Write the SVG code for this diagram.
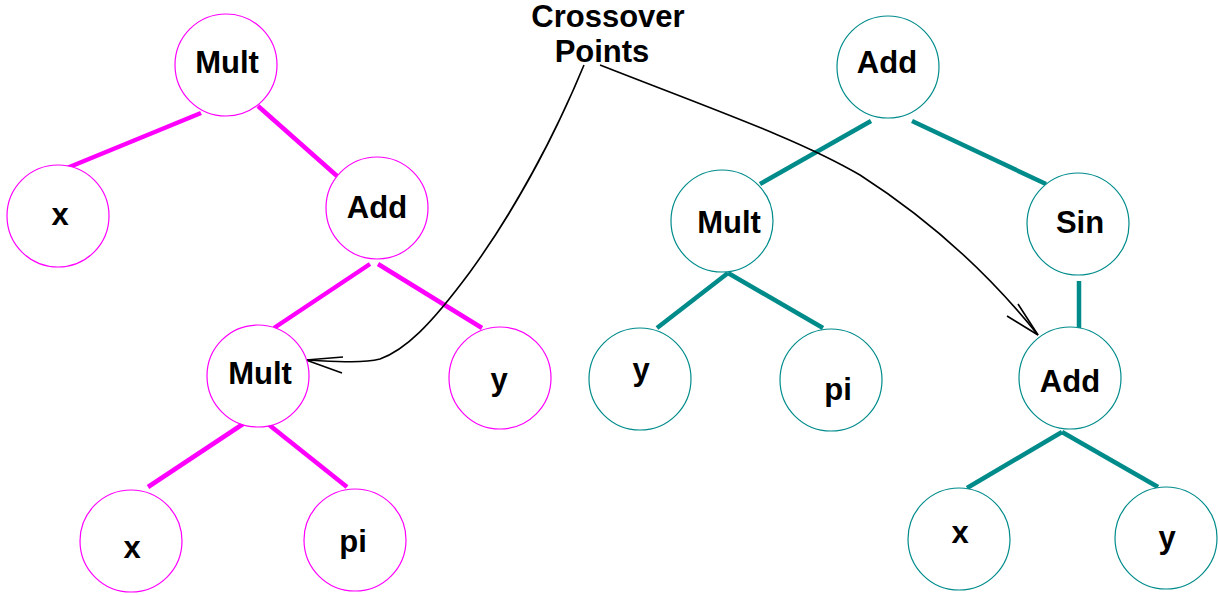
<svg xmlns="http://www.w3.org/2000/svg" width="1218" height="595" viewBox="0 0 1218 595">
<style>
.m{fill:#fff;stroke:#ff00ff;stroke-width:1.2}
.t{fill:#fff;stroke:#008b8b;stroke-width:1.2}
.em{stroke:#ff00ff;stroke-width:4.5;fill:none}
.et{stroke:#008b8b;stroke-width:4.5;fill:none}
.ar{stroke:#000;stroke-width:1.6;fill:none}
text{font-family:"Liberation Sans",Arial,sans-serif;font-weight:bold;font-size:31px;fill:#000;text-anchor:middle}
</style>
<rect width="1218" height="595" fill="#fff"/>
<g id="connectors">
<line class="em" x1="201" y1="113" x2="67" y2="168"/>
<line class="em" x1="258" y1="106" x2="337" y2="176"/>
<line class="em" x1="370" y1="264" x2="274" y2="328"/>
<line class="em" x1="378" y1="264" x2="482" y2="328"/>
<line class="em" x1="243" y1="424" x2="148" y2="487"/>
<line class="em" x1="268" y1="424" x2="347" y2="487"/>
<line class="et" x1="871" y1="121" x2="760" y2="184"/>
<line class="et" x1="912" y1="121" x2="1046" y2="184"/>
<line class="et" x1="728" y1="273" x2="657" y2="328"/>
<line class="et" x1="728" y1="273" x2="823" y2="328"/>
<line class="et" x1="1079" y1="281" x2="1079" y2="328"/>
<line class="et" x1="1062" y1="432" x2="967" y2="488"/>
<line class="et" x1="1062" y1="432" x2="1158" y2="487"/>
<path class="ar" d="M584,65 C555,135 515,210 470,272 C430,326 405,350 380,359 C360,364 330,361 306,360"/>
<path class="ar" d="M343,357 L306,360 L342,373"/>
<path class="ar" d="M600,65 C720,112 800,140 860,175 C930,220 990,275 1038,335"/>
<path class="ar" d="M1007,316 L1038,335 L1018,304"/>
</g>
<g id="label"><text x="608" y="27">Crossover</text><text x="602" y="62">Points</text></g>
<g id="L-mult"><circle class="m" cx="226" cy="65" r="51"/><text x="227" y="73">Mult</text></g>
<g id="L-x"><circle class="m" cx="58" cy="216" r="51"/><text x="60" y="225">x</text></g>
<g id="L-add"><circle class="m" cx="377" cy="208" r="51"/><text x="377" y="218">Add</text></g>
<g id="L-mult2"><circle class="m" cx="258" cy="376" r="51"/><text x="260" y="384">Mult</text></g>
<g id="L-y"><circle class="m" cx="500" cy="378" r="51"/><text x="499" y="390">y</text></g>
<g id="L-x2"><circle class="m" cx="131" cy="541" r="51"/><text x="132" y="558">x</text></g>
<g id="L-pi"><circle class="m" cx="355" cy="540" r="51"/><text x="353" y="552">pi</text></g>
<g id="R-add"><circle class="t" cx="888" cy="67" r="51"/><text x="887" y="73">Add</text></g>
<g id="R-mult"><circle class="t" cx="722" cy="221" r="51"/><text x="729" y="233">Mult</text></g>
<g id="R-sin"><circle class="t" cx="1078" cy="224" r="51"/><text x="1080" y="233">Sin</text></g>
<g id="R-y"><circle class="t" cx="640" cy="379" r="51"/><text x="641" y="380">y</text></g>
<g id="R-pi"><circle class="t" cx="831" cy="380" r="51"/><text x="838" y="400">pi</text></g>
<g id="R-add2"><circle class="t" cx="1070" cy="378" r="51"/><text x="1070" y="392">Add</text></g>
<g id="R-x"><circle class="t" cx="959" cy="539" r="51"/><text x="960" y="543">x</text></g>
<g id="R-y2"><circle class="t" cx="1166" cy="538" r="51"/><text x="1167" y="548">y</text></g>
</svg>
